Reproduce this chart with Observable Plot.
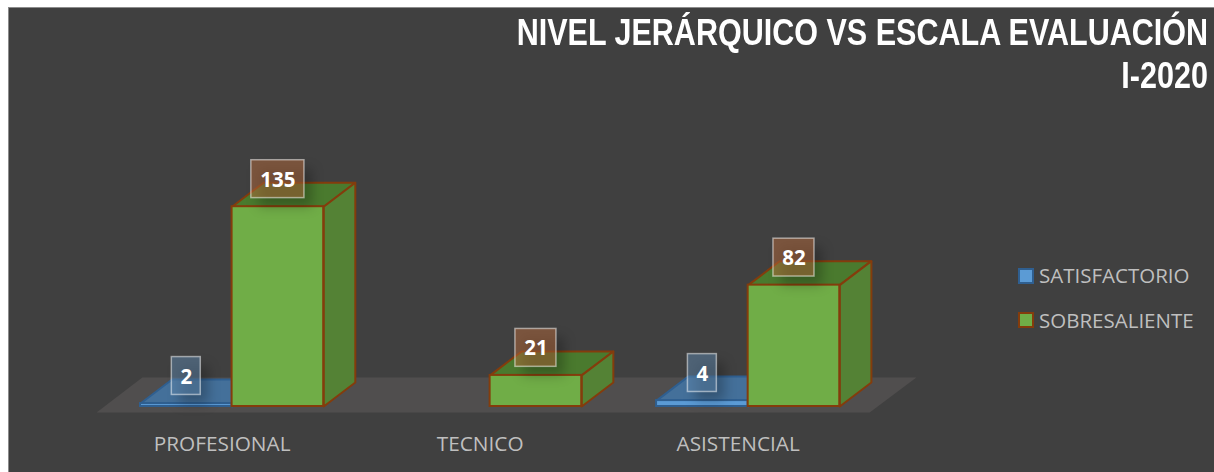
<!DOCTYPE html>
<html><head><meta charset="utf-8">
<script src="https://cdn.jsdelivr.net/npm/d3@7"></script>
<script src="https://cdn.jsdelivr.net/npm/@observablehq/plot@0.6"></script>
<style>
html,body{margin:0;padding:0;background:#fff;width:1214px;height:472px;overflow:hidden}
#panel{position:absolute;left:8px;top:7px;width:1206px;height:465px;background:#404040;box-sizing:border-box;border-left:1px solid #8c8c8c;border-top:1px solid #8c8c8c}
#chart{position:absolute;left:0;top:0}
.title{position:absolute;right:6px;color:#fff;font:bold 37px "Liberation Sans",Arial,sans-serif;white-space:nowrap;transform-origin:right center;transform:scaleX(.825);line-height:40px}
.leg{position:absolute;left:1039px;color:#bfbfbf;font:20.5px "Open Sans",sans-serif;line-height:24px;white-space:nowrap}
.sw{position:absolute;left:1018px;width:16px;height:16px;box-sizing:border-box;border:2px solid}
</style></head><body>
<div id="panel"></div>
<div id="chart"></div>
<div class="title" style="top:13px">NIVEL JERÁRQUICO VS ESCALA EVALUACIÓN</div>
<div class="title" style="top:56px">I-2020</div>
<div class="sw" style="top:268px;background:#5b9bd5;border-color:#2f5f90"></div>
<div class="leg" style="top:263px">SATISFACTORIO</div>
<div class="sw" style="top:312px;background:#70ad47;border-color:#843c0c"></div>
<div class="leg" style="top:308px">SOBRESALIENTE</div>
<script>
const categories = ["PROFESIONAL", "TECNICO", "ASISTENCIAL"];
const satisfactorio = [2, null, 4];
const sobresaliente = [135, 21, 82];

// Layout constants, in scale units
const groupStep = 2.817;   // slots between categories
const depthX = 0.345;      // oblique depth of a bar
const depthY = 16.2;
const labelLift = 18.6;    // label box centre above the front top
const labelHalfH = 12.8;
const labelHalfW = {1: 0.158, 2: 0.224, 3: 0.29};

const bars = (values, series, slot) => values.flatMap((v, i) => v == null ? [] : [{
  series, value: v, x0: i * groupStep + slot, x1: i * groupStep + slot + 1
}]);
const blue = bars(satisfactorio, "SATISFACTORIO", 0);
const green = bars(sobresaliente, "SOBRESALIENTE", 1);

const faces = (rows, kind) => rows.flatMap((b, k) => {
  const {x0, x1, value: v} = b;
  const pts = kind === "top"
    ? [[x0, v], [x0 + depthX, v + depthY], [x1 + depthX, v + depthY], [x1, v], [x0, v]]
    : [[x1, 0], [x1 + depthX, depthY], [x1 + depthX, v + depthY], [x1, v], [x1, 0]];
  return pts.map(([x, y]) => ({id: k, x, y}));
});

const floorPts = [[-0.48, -4], [0.02, 19.6], [8.47, 19.6], [7.96, -4], [-0.48, -4]].map(([x, y]) => ({x, y}));

const barMarks = (rows, front, top, side, stroke, sw) => [
  Plot.line(faces(rows, "top"), {x: "x", y: "y", z: "id", fill: top, stroke, strokeWidth: sw}),
  Plot.line(faces(rows, "side"), {x: "x", y: "y", z: "id", fill: side, stroke, strokeWidth: sw}),
  Plot.rect(rows, {x1: "x0", x2: "x1", y1: 0, y2: "value", fill: front, stroke, strokeWidth: sw})
];

const labelMarks = (rows, fill) => {
  const c = d => (d.x0 + d.x1) / 2;
  const hw = d => labelHalfW[String(d.value).length];
  const box = {
    x1: d => c(d) - hw(d), x2: d => c(d) + hw(d),
    y1: d => d.value + labelLift - labelHalfH, y2: d => d.value + labelLift + labelHalfH
  };
  return [
    Plot.rect(rows, {...box, fill: "#000", fillOpacity: 0.25, dx: 8, dy: 9, imageFilter: "blur(6px)"}),
    Plot.rect(rows, {...box, fill, fillOpacity: 0.5, stroke: "#fff", strokeOpacity: 0.5, strokeWidth: 1.5}),
    Plot.text(rows, {x: c, y: d => d.value + labelLift, dy: 1, text: "value", fill: "#fff",
      fontSize: 20.5, fontWeight: 700, fontFamily: "Open Sans"})
  ];
};

const plot = Plot.plot({
  width: 1214, height: 472,
  marginTop: 30, marginBottom: 66, marginLeft: 0, marginRight: 0,
  style: {background: "transparent"},
  x: {domain: [0, 10], range: [140, 1056]},
  y: {domain: [0, 250], range: [406, 36], axis: null},
  marks: [
    Plot.line(floorPts, {x: "x", y: "y", fill: "#504e4e", stroke: "none"}),
    ...barMarks(blue, "#5b9bd5", "#44709a", "#3f6e9c", "#2f5f90", 2),
    ...barMarks(green, "#70ad47", "#4a7a2e", "#548235", "#843c0c", 2),
    Plot.axisX({
      ticks: categories.map((_, i) => i * groupStep + 1),
      tickFormat: (d, i) => categories[i],
      tickSize: 0, tickPadding: 30, dx: -10, lineAnchor: "top", label: null,
      fontSize: 20.8, fontFamily: "Open Sans", color: "#bfbfbf"
    }),
    ...labelMarks(blue, "#5d86ac"),
    ...labelMarks(green, "#b56a3c")
  ]
});
document.getElementById("chart").append(plot);
</script>
</body></html>
